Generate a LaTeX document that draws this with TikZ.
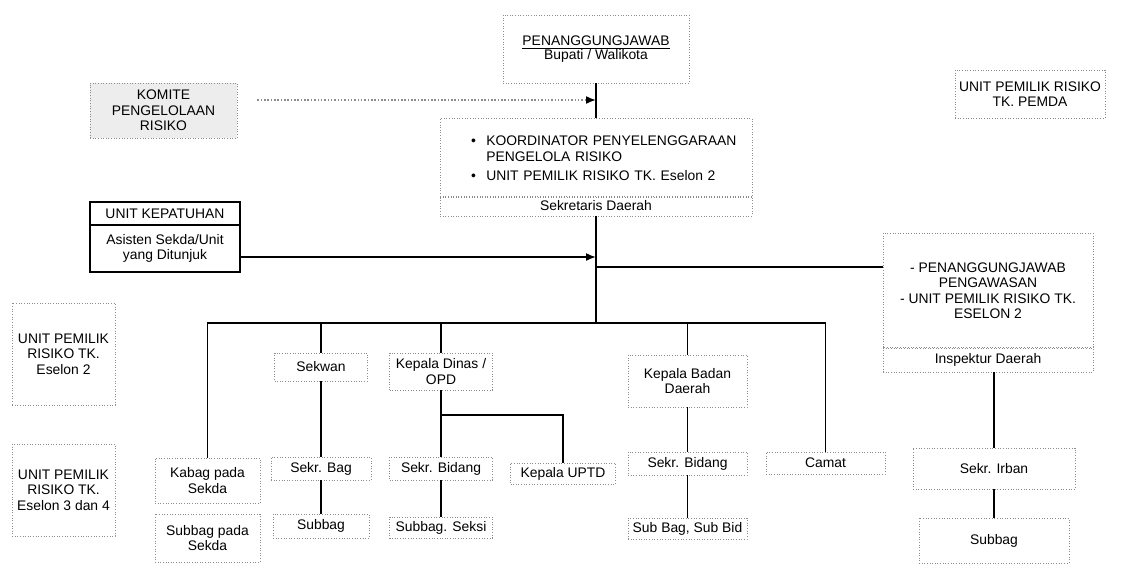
\documentclass[tikz,border=0pt]{standalone}
\usepackage{fontspec}
\setmainfont{Liberation Sans}
\usetikzlibrary{arrows.meta, positioning, calc}

\begin{document}
\begin{tikzpicture}[x=0.02cm, y=-0.02cm,
    box/.style={rectangle, draw=black!45, densely dotted, line width=0.5pt, font=\fontsize{7.9}{8.8}\selectfont, align=center, inner sep=1pt},
    sbox/.style={box, draw=black, solid, line width=0.7pt},
    line/.style={line width=0.9pt},
    arr/.style={line, -{Latex[length=2mm, width=1.6mm]}},
]
\useasboundingbox (0,0) rectangle (1123,572);

% top level
\node[box, minimum width=3.72cm, minimum height=1.36cm] (bupati) at (596,49) {\underline{PENANGGUNGJAWAB}\\[-1pt]Bupati / Walikota};
\node[box, fill=black!7, minimum width=2.94cm, minimum height=1.1cm] (komite) at (163.5,110.5) {KOMITE\\PENGELOLAAN\\RISIKO};
\node[box, minimum width=3cm, minimum height=0.96cm] (pemda) at (1030,94) {UNIT PEMILIK RISIKO\\TK. PEMDA};
\node[box, align=left, text width=5.6cm, minimum width=6.24cm, minimum height=1.58cm] (koord) at (596,158) {\mbox{\hspace*{0.3cm}\makebox[1.1em][l]{\textbullet}KOORDINATOR PENYELENGGARAAN}\\\mbox{\hspace*{0.3cm}\hspace*{1.1em}PENGELOLA RISIKO}\\[2pt]\mbox{\hspace*{0.3cm}\makebox[1.1em][l]{\textbullet}UNIT PEMILIK RISIKO TK. Eselon 2}};
\node[box, minimum width=6.24cm, minimum height=0.4cm] (sekda) at (596,206) {Sekretaris Daerah};

\node[sbox, minimum width=3cm, minimum height=0.46cm] (kephead) at (165,213.5) {UNIT KEPATUHAN};
\node[sbox, minimum width=3cm, minimum height=0.94cm] (kep) at (165,248.5) {Asisten Sekda/Unit\\yang Ditunjuk};

\node[box, minimum width=4.2cm, minimum height=2.3cm] (awas) at (988,290.5) {- PENANGGUNGJAWAB\\PENGAWASAN\\- UNIT PEMILIK RISIKO TK.\\ESELON 2};
\node[box, minimum width=4.2cm, minimum height=0.5cm] (insp) at (988,359.5) {Inspektur Daerah};

% left labels
\node[box, minimum width=2.06cm, minimum height=2.04cm] (upr2) at (63.5,354) {UNIT PEMILIK\\RISIKO TK.\\Eselon 2};
\node[box, minimum width=2.06cm, minimum height=1.84cm] (upr34) at (63.5,490) {UNIT PEMILIK\\RISIKO TK.\\Eselon 3 dan 4};

% units
\node[box, minimum width=2.1cm, minimum height=0.9cm] (kabag) at (207.5,480.5) {Kabag pada\\Sekda};
\node[box, minimum width=2.1cm, minimum height=0.96cm] (subsekda) at (207.5,538) {Subbag pada\\Sekda};

\node[box, minimum width=1.86cm, minimum height=0.56cm] (sekwan) at (321,367) {Sekwan};
\node[box, minimum width=2cm, minimum height=0.46cm] (sekrbag) at (321,468.5) {Sekr. Bag};
\node[box, minimum width=1.92cm, minimum height=0.48cm] (subbag) at (321,526) {Subbag};

\node[box, minimum width=2.06cm, minimum height=0.74cm] (kadis) at (441,371.5) {Kepala Dinas /\\OPD};
\node[box, minimum width=2.06cm, minimum height=0.46cm] (sekrbid) at (441,468.5) {Sekr. Bidang};
\node[box, minimum width=2.06cm, minimum height=0.42cm] (seksi) at (441,527.5) {Subbag. Seksi};
\node[box, minimum width=2.1cm, minimum height=0.42cm] (uptd) at (563,473.5) {Kepala UPTD};

\node[box, minimum width=2.38cm, minimum height=1.04cm] (kabadan) at (687.5,381) {Kepala Badan\\Daerah};
\node[box, minimum width=2.38cm, minimum height=0.46cm] (sekrbid2) at (687.5,463.5) {Sekr. Bidang};
\node[box, minimum width=2.38cm, minimum height=0.42cm] (subbid) at (687.5,528.5) {Sub Bag, Sub Bid};
\node[box, minimum width=2.38cm, minimum height=0.44cm] (camat) at (825.5,463) {Camat};

\node[box, minimum width=3.24cm, minimum height=0.82cm] (irban) at (994,468.5) {Sekr. Irban};
\node[box, minimum width=3cm, minimum height=0.9cm] (subirban) at (994,540.5) {Subbag};

\coordinate (jk) at (596,100);
\coordinate (ja) at (596,257);
\coordinate (jt) at (596,267);
\coordinate (bus) at (596,323);
\coordinate (br) at (441,415);

% connectors
\draw[line] (bupati) -- (koord);
\draw[line] (sekda) -- (bus);
\draw[arr, densely dotted, draw=black!45, -{Latex[length=2mm, width=1.6mm, color=black]}, shorten <=0.4cm] (komite.east |- jk) -- (jk);
\draw[arr] (kep.east |- ja) -- (ja);
\draw[line] (jt) -- (awas.west |- jt);
\draw[line] (kabag.north) |- (bus) -| (camat.north);
\draw[line] (sekwan.north |- bus) -- (sekwan);
\draw[line] (sekwan) -- (sekrbag);
\draw[line] (sekrbag) -- (subbag);
\draw[line] (kadis.north |- bus) -- (kadis);
\draw[line] (kadis) -- (sekrbid);
\draw[line] (br) -| (uptd.north);
\draw[line] (sekrbid) -- (seksi);
\draw[line] (kabadan.north |- bus) -- (kabadan);
\draw[line] (kabadan) -- (sekrbid2);
\draw[line] (sekrbid2) -- (subbid);
\draw[line] (insp.south -| irban) -- (irban);
\draw[line] (irban) -- (subirban);
\end{tikzpicture}
\end{document}
